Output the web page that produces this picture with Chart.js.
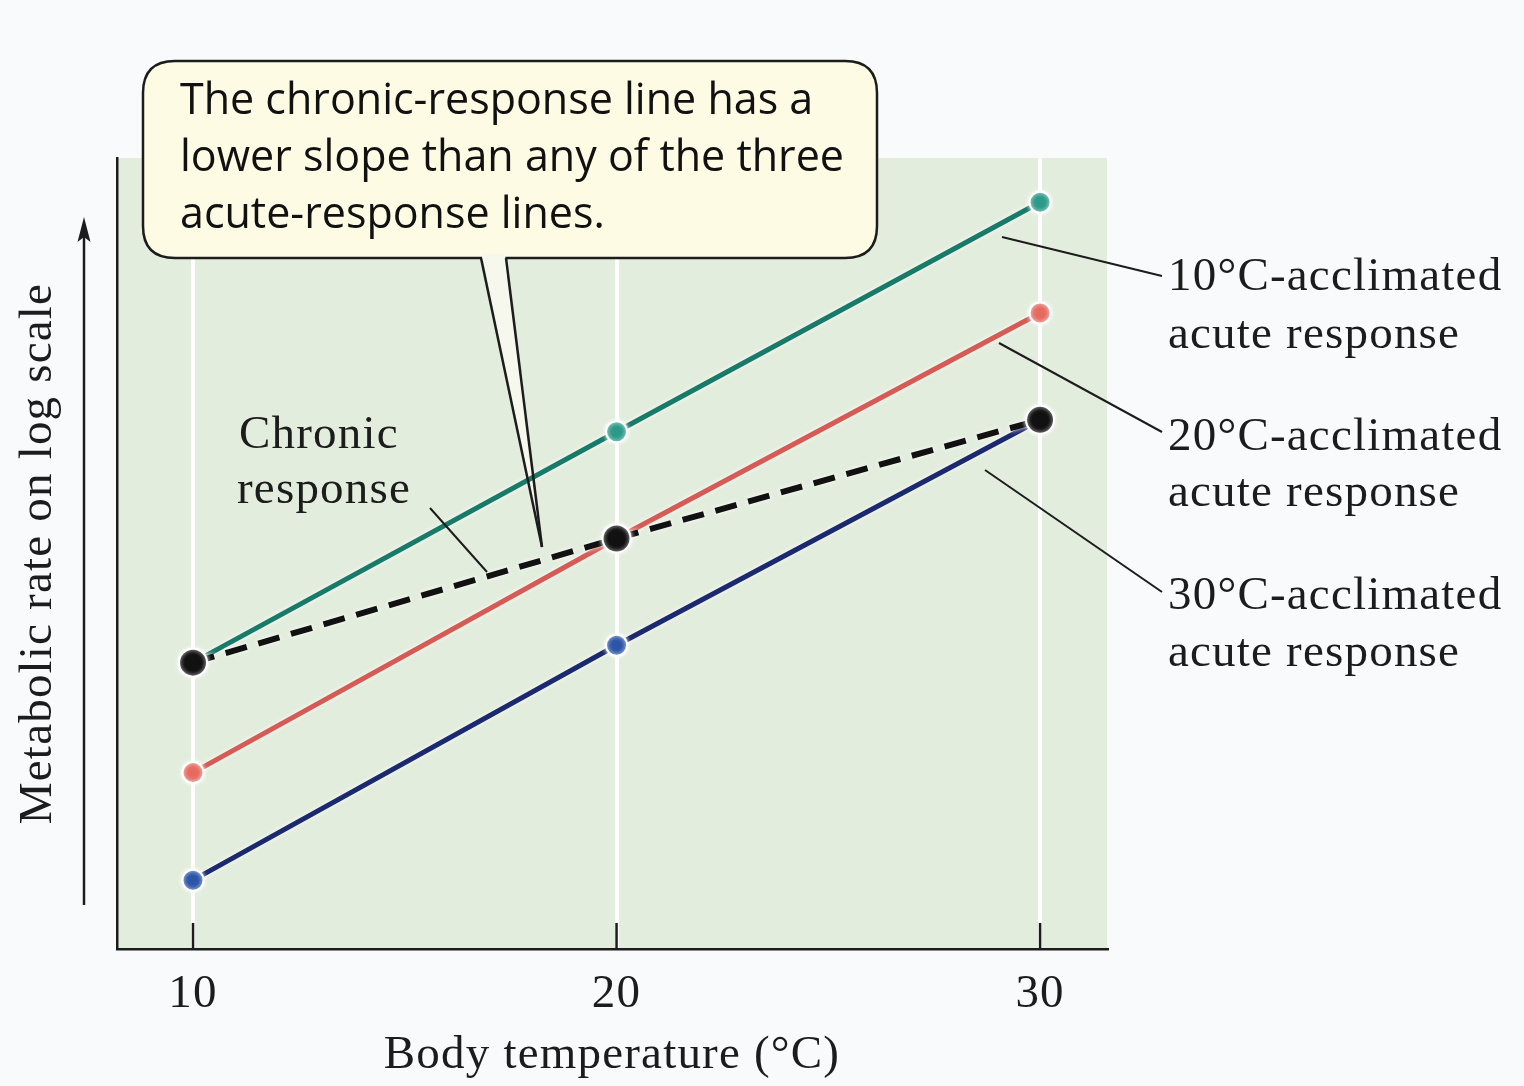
<!DOCTYPE html>
<html>
<head>
<meta charset="utf-8">
<title>Metabolic rate vs body temperature</title>
<script src="https://cdn.jsdelivr.net/npm/chart.js@4.4.1/dist/chart.umd.min.js"></script>
<style>
  html, body { margin: 0; padding: 0; background: #f8fafb; }
  #chart { display: block; }
</style>
</head>
<body>
<canvas id="chart" width="1524" height="1086"></canvas>
<script>
// body temperatures (x) and metabolic rate in arbitrary log units (y, 0-100)
const temps = [10, 20, 30];
const xTicks = [10, 20, 30];
const acclim10 = [36.2, 65.4, 94.4];
const acclim20 = [22.3, 51.9, 80.4];
const acclim30 = [8.7, 38.4, 66.9];
const chronic = [36.2, 51.9, 66.9];

const calloutLines = ['The chronic-response line has a', 'lower slope than any of the three', 'acute-response lines.'];
const chronicLabel = ['Chronic', 'response'];
const sideLabels = [
    ['10°C-acclimated', 'acute response'],
    ['20°C-acclimated', 'acute response'],
    ['30°C-acclimated', 'acute response']
];

const serif = '"Liberation Serif", "Times New Roman", serif';
const sans = '"Open Sans", "Noto Sans", sans-serif';
const ink = '#1c1c1c';
const serifSize = 47;

const pts = arr => temps.map((t, i) => ({ x: t, y: arr[i] }));

const line = (ctx, x1, y1, x2, y2, w) => {
    ctx.beginPath();
    ctx.lineWidth = w;
    ctx.moveTo(x1, y1);
    ctx.lineTo(x2, y2);
    ctx.stroke();
};

const roundBox = (ctx, x, y, w, h, r) => {
    ctx.beginPath();
    ctx.moveTo(x + r, y);
    ctx.lineTo(x + w - r, y);
    ctx.quadraticCurveTo(x + w, y, x + w, y + r);
    ctx.lineTo(x + w, y + h - r);
    ctx.quadraticCurveTo(x + w, y + h, x + w - r, y + h);
    ctx.lineTo(x + r, y + h);
    ctx.quadraticCurveTo(x, y + h, x, y + h - r);
    ctx.lineTo(x, y + r);
    ctx.quadraticCurveTo(x, y, x + r, y);
    ctx.closePath();
};

// callout pointer: two base points on the box bottom and a tip near the chronic line
const tip = { x: 542, y: 547 };
const baseL = { x: 481, y: 258 };
const baseR = { x: 506, y: 258 };

const decor = {
    id: 'decor',
    beforeDraw(chart) {
        const { ctx, chartArea: a } = chart;
        ctx.save();
        ctx.fillStyle = '#f8fafb';
        ctx.fillRect(0, 0, chart.width, chart.height);
        ctx.fillStyle = '#e3eddd';
        ctx.fillRect(a.left, a.top, a.right - a.left, a.bottom - a.top);
        ctx.restore();
        ctx.letterSpacing = '1.2px';
    },
    beforeDatasetsDraw(chart) {
        const { ctx, chartArea: a } = chart;
        const xs = chart.scales.x;
        ctx.save();
        ctx.strokeStyle = ink;
        xTicks.forEach(v => {
            const x = xs.getPixelForValue(v);
            line(ctx, x, a.bottom - 26, x, a.bottom, 2.5);
        });

        // callout box
        roundBox(ctx, 143, 61, 734, 197, 32);
        ctx.fillStyle = '#fdfbe4';
        ctx.fill();
        ctx.lineWidth = 2.5;
        ctx.strokeStyle = ink;
        ctx.stroke();
        ctx.beginPath();
        ctx.moveTo(baseL.x + 1, baseL.y - 4);
        ctx.lineTo(baseR.x - 1, baseR.y - 4);
        ctx.lineTo(tip.x, tip.y);
        ctx.closePath();
        ctx.fillStyle = '#f6f8ee';
        ctx.fill();
        ctx.fillRect(baseL.x + 1, baseL.y - 4, baseR.x - baseL.x - 2, 7);

        ctx.fillStyle = '#111';
        ctx.letterSpacing = '0px';
        ctx.font = '43px ' + sans;
        ctx.textBaseline = 'alphabetic';
        ctx.textAlign = 'left';
        calloutLines.forEach((t, i) => ctx.fillText(t, 180, 114 + i * 57));
        ctx.restore();
    },
    beforeDatasetDraw(chart) {
        chart.ctx.shadowColor = 'rgba(255,255,255,0.95)';
        chart.ctx.shadowBlur = 4;
    },
    afterDatasetDraw(chart) {
        chart.ctx.shadowColor = 'transparent';
        chart.ctx.shadowBlur = 0;
    },
    afterDatasetsDraw(chart) {
        const { ctx } = chart;
        ctx.save();
        ctx.strokeStyle = ink;
        line(ctx, baseL.x, baseL.y, tip.x, tip.y, 2.5);
        line(ctx, baseR.x, baseR.y, tip.x, tip.y, 2.5);
        ctx.restore();
    },
    afterDraw(chart) {
        const { ctx } = chart;
        ctx.save();
        ctx.strokeStyle = ink;
        ctx.fillStyle = ink;

        // y axis arrow
        line(ctx, 84, 905, 84, 236, 2.5);
        ctx.beginPath();
        ctx.moveTo(84, 217);
        ctx.lineTo(77.5, 242);
        ctx.lineTo(84, 237);
        ctx.lineTo(90.5, 242);
        ctx.closePath();
        ctx.fill();

        // leader lines
        line(ctx, 430, 508, 487, 572, 2);
        line(ctx, 1002, 237, 1162, 276, 2);
        line(ctx, 999, 343, 1162, 432, 2);
        line(ctx, 985, 470, 1162, 592, 2);

        ctx.letterSpacing = '1.2px';
        ctx.font = serifSize + 'px ' + serif;
        ctx.textAlign = 'left';
        ctx.textBaseline = 'alphabetic';
        ctx.fillText(chronicLabel[0], 239, 448);
        ctx.fillText(chronicLabel[1], 237, 503);

        const baselines = [[290, 348], [450, 506], [609, 666]];
        sideLabels.forEach((lab, i) => {
            ctx.fillText(lab[0], 1168, baselines[i][0]);
            ctx.fillText(lab[1], 1168, baselines[i][1]);
        });
        ctx.restore();
    }
};

new Chart(document.getElementById('chart'), {
    type: 'line',
    data: {
        datasets: [
            {
                label: 'Chronic response',
                data: pts(chronic),
                borderColor: '#111111',
                borderWidth: 6,
                borderDash: [22, 12],
                pointRadius: 14,
                pointBackgroundColor: '#111111',
                pointBorderColor: '#ffffff',
                pointBorderWidth: 2
            },
            {
                label: '10°C-acclimated acute response',
                data: pts(acclim10),
                borderColor: '#187a68',
                borderWidth: 5,
                pointRadius: 10.5,
                pointBackgroundColor: '#2b9a89',
                pointBorderColor: '#ffffff',
                pointBorderWidth: 2
            },
            {
                label: '20°C-acclimated acute response',
                data: pts(acclim20),
                borderColor: '#d65b55',
                borderWidth: 5,
                pointRadius: 10.5,
                pointBackgroundColor: '#e76a60',
                pointBorderColor: '#ffffff',
                pointBorderWidth: 2
            },
            {
                label: '30°C-acclimated acute response',
                data: pts(acclim30),
                borderColor: '#1b2a6e',
                borderWidth: 5,
                pointRadius: 10.5,
                pointBackgroundColor: '#2c55a8',
                pointBorderColor: '#ffffff',
                pointBorderWidth: 2
            }
        ]
    },
    options: {
        responsive: false,
        animation: false,
        layout: { padding: { top: 158, right: 417, left: 0, bottom: 0 } },
        plugins: { legend: { display: false }, tooltip: { enabled: false } },
        scales: {
            x: {
                type: 'linear',
                min: 8.205,
                max: 31.58,
                afterBuildTicks: s => { s.ticks = xTicks.map(v => ({ value: v })); },
                afterFit: s => { s.height = 137; },
                ticks: { font: { family: serif, size: serifSize }, color: ink, padding: 17 },
                grid: { color: '#ffffff', lineWidth: 4, drawTicks: false },
                border: { color: ink, width: 2.5 },
                title: {
                    display: true,
                    text: 'Body temperature (°C)',
                    font: { family: serif, size: serifSize },
                    color: ink,
                    padding: { top: 0, bottom: 2 }
                }
            },
            y: {
                min: 0,
                max: 100,
                afterFit: s => { s.width = 117; },
                ticks: { display: false },
                grid: { display: false },
                border: { color: ink, width: 2.5 },
                title: {
                    display: true,
                    text: 'Metabolic rate on log scale',
                    font: { family: serif, size: serifSize },
                    color: ink,
                    padding: { top: 10, bottom: 0 }
                }
            }
        }
    },
    plugins: [decor]
});
</script>
</body>
</html>
